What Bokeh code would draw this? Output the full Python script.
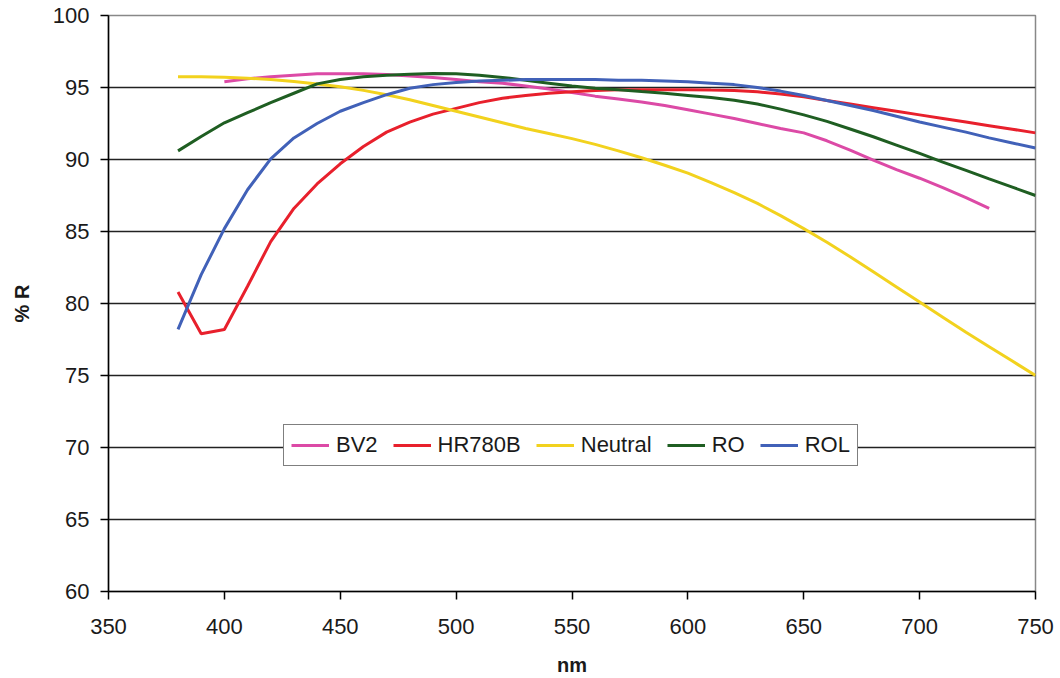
from bokeh.plotting import figure
from bokeh.models import SingleIntervalTicker, Range1d
from bokeh.embed import file_html
from bokeh.resources import INLINE

wavelength = list(range(380, 751, 10))
wavelength_bv2 = list(range(400, 731, 10))

bv2 = [95.4, 95.6, 95.75, 95.85, 95.95, 95.95, 95.95, 95.9, 95.8, 95.7,
       95.55, 95.4, 95.3, 95.1, 94.9, 94.65, 94.4, 94.2, 94.0, 93.75,
       93.45, 93.15, 92.85, 92.5, 92.15, 91.85, 91.3, 90.65, 89.95, 89.3,
       88.7, 88.05, 87.35, 86.6]

hr780b = [80.8, 77.9, 78.2, 81.2, 84.3, 86.6, 88.3, 89.7, 90.9, 91.9,
          92.6, 93.15, 93.55, 93.95, 94.25, 94.45, 94.6, 94.7, 94.8, 94.85,
          94.85, 94.85, 94.85, 94.82, 94.8, 94.7, 94.55, 94.35, 94.1, 93.85,
          93.6, 93.35, 93.1, 92.85, 92.6, 92.35, 92.1, 91.85]

neutral = [95.75, 95.75, 95.72, 95.65, 95.55, 95.42, 95.25, 95.05, 94.8, 94.5,
           94.15, 93.75, 93.35, 92.95, 92.55, 92.15, 91.8, 91.45, 91.05, 90.6,
           90.12, 89.6, 89.05, 88.4, 87.7, 86.95, 86.1, 85.2, 84.25, 83.25,
           82.2, 81.15, 80.1, 79.05, 78.0, 77.0, 76.0, 75.0]

ro = [90.6, 91.6, 92.55, 93.25, 93.95, 94.6, 95.25, 95.55, 95.75, 95.85,
      95.92, 95.98, 95.95, 95.85, 95.7, 95.5, 95.3, 95.1, 94.95, 94.85,
      94.72, 94.6, 94.45, 94.3, 94.12, 93.85, 93.5, 93.1, 92.65, 92.12,
      91.58, 91.0, 90.42, 89.82, 89.25, 88.65, 88.08, 87.5]

rol = [78.2, 82.0, 85.2, 87.9, 90.05, 91.5, 92.5, 93.35, 93.95, 94.5,
       94.95, 95.2, 95.35, 95.45, 95.5, 95.55, 95.55, 95.55, 95.55, 95.5,
       95.5, 95.45, 95.4, 95.3, 95.2, 95.0, 94.75, 94.45, 94.1, 93.75,
       93.4, 93.0, 92.6, 92.25, 91.9, 91.5, 91.15, 90.8]

series_names = ["BV2", "HR780B", "Neutral", "RO", "ROL"]
series_colors = ["#DC4AA6", "#E8202C", "#F2D21E", "#1F5E22", "#4161B8"]

p = figure(width=1060, height=678, output_backend="svg", toolbar_location=None,
           x_range=Range1d(350, 750), y_range=Range1d(60, 100),
           min_border_left=108, min_border_right=25, min_border_top=15,
           min_border_bottom=86)

xs = [wavelength_bv2, wavelength, wavelength, wavelength, wavelength]
ys = [bv2, hr780b, neutral, ro, rol]
for x, y, name, col in zip(xs, ys, series_names, series_colors):
    p.line(x, y, line_color=col, line_width=3, legend_label=name)

p.background_fill_color = "white"
p.border_fill_color = "white"
p.outline_line_color = "#888888"
p.outline_line_width = 1.5

p.xaxis.ticker = SingleIntervalTicker(interval=50)
p.yaxis.ticker = SingleIntervalTicker(interval=5)
p.xgrid.grid_line_color = None
p.ygrid.grid_line_color = "#222222"
p.ygrid.grid_line_width = 1.5

for ax in (p.xaxis[0], p.yaxis[0]):
    ax.axis_line_color = "black"
    ax.axis_line_width = 1.5
    ax.major_tick_line_color = "black"
    ax.major_tick_line_width = 1.5
    ax.major_tick_in = 0
    ax.major_tick_out = 8
    ax.minor_tick_line_color = None
    ax.major_label_text_font = "Liberation Sans"
    ax.major_label_text_font_size = "22px"
    ax.major_label_text_color = "#1a1a1a"
    ax.axis_label_text_font = "Liberation Sans"
    ax.axis_label_text_font_size = "20px"
    ax.axis_label_text_font_style = "bold"
    ax.axis_label_text_color = "#1a1a1a"

p.xaxis.axis_label = "nm"
p.yaxis.axis_label = "% R"
p.xaxis.major_label_standoff = 19
p.xaxis.axis_label_standoff = 17
p.yaxis.major_label_standoff = 11
p.yaxis.axis_label_standoff = 17

lg = p.legend[0]
lg.orientation = "horizontal"
lg.location = (175, 125)
lg.border_line_color = "black"
lg.border_line_width = 1.5
lg.background_fill_color = "white"
lg.background_fill_alpha = 1.0
lg.label_text_font = "Liberation Sans"
lg.label_text_font_size = "22px"
lg.label_text_color = "#1a1a1a"
lg.glyph_width = 38
lg.label_standoff = 7
lg.spacing = 15
lg.padding = 7
lg.margin = 0

open("out.html", "w").write(file_html(p, INLINE))
